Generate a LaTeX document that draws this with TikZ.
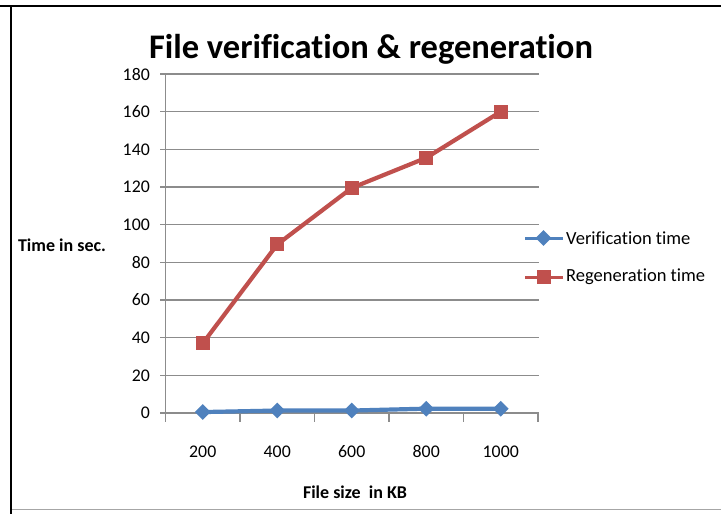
\documentclass[tikz,border=0pt]{standalone}
\usepackage{fontspec}
\setmainfont{Carlito}[Ligatures=NoCommon]
\usetikzlibrary{shapes.geometric}
\definecolor{serblue}{HTML}{4F81BD}
\definecolor{serred}{HTML}{C0504D}
\definecolor{gridgray}{HTML}{8C8C8C}
\begin{document}
\begin{tikzpicture}[x=1pt,y=-1pt,
  grid/.style={draw=gridgray,line width=1.1pt},
  ticklab/.style={font=\fontsize{17.8}{18}\selectfont,text=black,inner sep=0pt},
  axlab/.style={font=\bfseries\fontsize{18}{18}\selectfont,inner sep=0pt},
  verline/.style={draw=serblue,line width=4.2pt,line join=round},
  regline/.style={draw=serred,line width=4.2pt,line join=round},
  vermark/.style={diamond,fill=serblue,draw=none,minimum width=16pt,minimum height=16pt,inner sep=0pt,aspect=1},
  regmark/.style={rectangle,fill=serred,draw=none,minimum width=14pt,minimum height=14pt,inner sep=0pt},
  leglab/.style={font=\fontsize{18.5}{19}\selectfont,anchor=west,inner sep=0pt}]
\useasboundingbox (0,0) rectangle (721,514);
\fill[white] (0,0) rectangle (721,514);
% chart frame
\draw[gray!70,line width=1.8pt] (11,509.5) -- (721,509.5);
\draw[black,line width=2pt] (0,6) -- (721,6);
\draw[black,line width=2.6pt] (10.8,5) -- (10.8,514);
% title
\node[font=\bfseries\fontsize{34.5}{35}\selectfont,inner sep=0pt] (title) at (371,49) {File verification \& regeneration};
% value grid, y ticks and labels
\foreach \v in {0,20,...,180}{
  \pgfmathsetmacro{\yy}{413-1.88333*\v}
  \draw[grid] (160,\yy) -- (539,\yy);
  \node[ticklab,anchor=east] (y\v) at (150,\yy) {\v};
}
% vertical axis
\draw[grid] (165.5,74) -- (165.5,413);
% category ticks and labels
\foreach \k in {0,...,5}{
  \pgfmathsetmacro{\xx}{165.5+74.5*\k}
  \draw[grid] (\xx,413) -- (\xx,422);
}
\foreach \lab [count=\i] in {200,400,600,800,1000}{
  \pgfmathsetmacro{\xx}{165.5+74.5*(\i-0.5)}
  \node[ticklab,anchor=base] (x\i) at (\xx,457) {\lab};
}
% axis titles
\node[axlab] (ytitle) at (62,245) {Time in sec.};
\node[axlab] (xtitle) at (355,492) {File size\ \ in KB};
% series points
\foreach \v [count=\i] in {37,89.5,119.5,135.5,160}{
  \coordinate (r\i) at ({165.5+74.5*(\i-0.5)},{413-1.88333*\v});
}
\foreach \v [count=\i] in {0.5,1.3,1.3,2.3,2.3}{
  \coordinate (b\i) at ({165.5+74.5*(\i-0.5)},{413-1.88333*\v});
}
\draw[regline] (r1) -- (r2) -- (r3) -- (r4) -- (r5);
\draw[verline] (b1) -- (b2) -- (b3) -- (b4) -- (b5);
\foreach \i in {1,...,5}{
  \node[regmark] (rm\i) at (r\i) {};
  \node[vermark] (bm\i) at (b\i) {};
}
% legend
\coordinate (lv1) at (525,238);
\coordinate (lv2) at (563,238);
\coordinate (lr1) at (525,277);
\coordinate (lr2) at (563,277);
\draw[verline,line width=3pt] (lv1) -- (lv2);
\draw[regline,line width=3pt] (lr1) -- (lr2);
\node[vermark] (lvm) at (543.5,238) {};
\node[regmark] (lrm) at (543.5,277) {};
\node[leglab] (lvt) at (566,238) {Verification time};
\node[leglab] (lrt) at (566,277) {Regeneration time};
\end{tikzpicture}
\end{document}
